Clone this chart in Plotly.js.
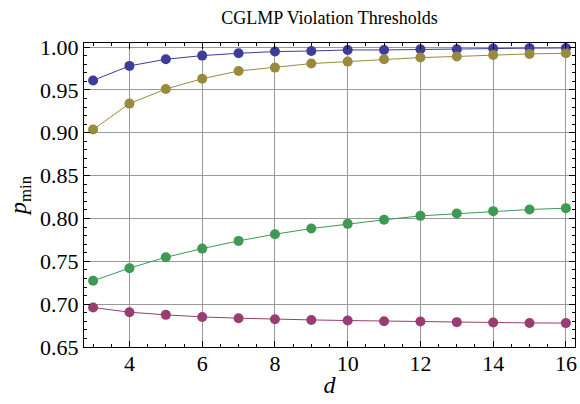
<!DOCTYPE html>
<html>
<head>
<meta charset="utf-8">
<script src="https://cdn.plot.ly/plotly-3.0.1.min.js"></script>
<style>html,body{margin:0;padding:0;background:#fff;}#chart{width:580px;height:404px;}</style>
</head>
<body>
<div id="chart"></div>
<script>
const d = [3,4,5,6,7,8,9,10,11,12,13,14,15,16];
const seriesBlue   = [0.961,0.978,0.9857,0.990,0.9927,0.9947,0.9954,0.9966,0.9966,0.9974,0.9975,0.9982,0.9987,0.9989];
const seriesGold   = [0.9037,0.934,0.951,0.963,0.972,0.976,0.9807,0.983,0.9857,0.9877,0.989,0.9907,0.992,0.9927];
const seriesGreen  = [0.7273,0.742,0.7547,0.7648,0.7738,0.7816,0.7882,0.7937,0.7984,0.803,0.8057,0.8085,0.8104,0.812];
const seriesPurple = [0.6961,0.6906,0.6875,0.6851,0.6836,0.6824,0.6816,0.6809,0.6801,0.6797,0.679,0.6786,0.6781,0.6779];
const xTicks = [4,6,8,10,12,14,16];
const yTicks = [0.65,0.70,0.75,0.80,0.85,0.90,0.95,1.00];

const colors = ['#3d3d99','#998b3d','#3d9954','#993d71'];
const all = [seriesBlue, seriesGold, seriesGreen, seriesPurple];
const serif = '"Liberation Serif", "Times New Roman", serif';

const traces = all.map((ys, i) => ({
  x: d, y: ys, type: 'scatter', mode: 'lines+markers',
  line: {color: colors[i], width: 1},
  marker: {color: colors[i], size: 10},
  showlegend: false, hoverinfo: 'skip'
}));

const layout = {
  width: 580, height: 404,
  margin: {l: 84, r: 5, t: 43, b: 57},
  paper_bgcolor: '#fff', plot_bgcolor: '#fff',
  font: {family: serif, color: '#000'},
  title: {text: 'CGLMP Violation Thresholds', font: {family: serif, size: 18, color: '#000'}, x: 0.568, xanchor: 'center', y: 0.955, yanchor: 'middle'},
  xaxis: {
    range: [2.75, 16.25], tickvals: xTicks, ticktext: xTicks.map(String),
    ticks: 'inside', ticklen: 6, tickcolor: '#000', tickwidth: 1,
    minor: {dtick: 0.5, tick0: 0, ticks: 'inside', ticklen: 3, tickcolor: '#000', showgrid: false},
    showline: true, linecolor: '#000', linewidth: 1, mirror: 'allticks',
    showgrid: true, gridcolor: '#999', gridwidth: 1, zeroline: false,
    ticklabelstandoff: -3,
    tickfont: {family: serif, size: 22, color: '#000'},
    title: {text: '<i>d</i>', font: {family: serif, size: 24, color: '#000'}, standoff: 0}
  },
  yaxis: {
    range: [0.65, 1.0047], tickvals: yTicks, ticktext: yTicks.map(v => v.toFixed(2)),
    ticks: 'inside', ticklen: 6, tickcolor: '#000', tickwidth: 1,
    minor: {dtick: 0.01, tick0: 0, ticks: 'inside', ticklen: 3, tickcolor: '#000', showgrid: false},
    showline: true, linecolor: '#000', linewidth: 1, mirror: 'allticks',
    showgrid: true, gridcolor: '#999', gridwidth: 1, zeroline: false,
    tickfont: {family: serif, size: 22, color: '#000'},
    title: {text: '<i>p</i><sub>min</sub>', font: {family: serif, size: 24, color: '#000'}, standoff: 6}
  }
};

Plotly.newPlot('chart', traces, layout, {staticPlot: true, displayModeBar: false});
</script>
</body>
</html>
